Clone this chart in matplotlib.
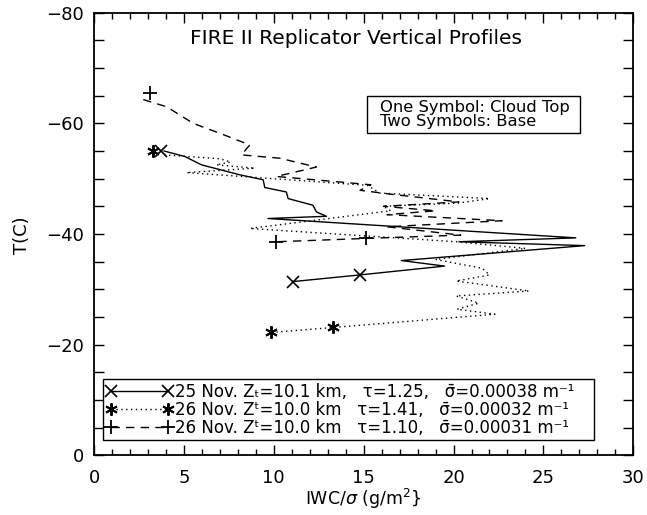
import matplotlib
matplotlib.use("Agg")
import matplotlib.pyplot as plt
from matplotlib.lines import Line2D
from matplotlib.patches import Rectangle
from matplotlib.ticker import MultipleLocator

plt.rcParams['font.family'] = ['DejaVu Sans']
plt.rcParams['mathtext.fontset'] = 'dejavusans'

# ---- data ----
# 25 Nov (solid, x markers)
nov25_iwc = [3.9, 5.06, 5.98, 8.11, 9.41, 9.50, 10.70, 10.80, 12.18, 12.37, 12.93,
             9.68, 26.80, 20.30, 27.30, 17.10, 19.50, 14.78, 11.07]
nov25_T = [-55.0, -54.0, -52.5, -50.7, -49.8, -48.4, -47.6, -46.4, -45.2, -44.0, -43.2,
           -42.8, -39.3, -38.6, -37.9, -35.2, -34.2, -32.6, -31.4]
nov25_top = (3.75, -55.0)

# 26 Nov first profile (dotted, asterisks)
nov26a_iwc = [3.9, 7.0, 7.6, 6.8, 8.94, 5.15, 15.2, 15.9, 22.0, 20.3, 16.1, 16.5,
              8.67, 20.15, 24.0, 19.0, 21.6, 22.0, 20.15, 24.2, 20.15, 21.4, 20.2,
              22.3, 13.3, 9.87]
nov26a_T = [-54.3, -53.6, -53.0, -52.5, -51.9, -51.1, -48.8, -47.4, -46.4, -45.6, -45.0,
            -44.2, -41.0, -38.6, -37.4, -35.4, -33.8, -32.6, -31.5, -29.7, -28.8,
            -27.5, -26.4, -25.5, -23.1, -22.2]
nov26a_top = (3.3, -55.0)

# 26 Nov second profile (dashed, plus)
nov26b_iwc = [2.74, 4.04, 4.78, 5.52, 7.0, 8.67, 8.2, 10.33, 12.37, 10.15, 13.67,
              15.4, 14.8, 16.5, 20.3, 16.1, 19.0, 16.3, 22.7, 16.3, 20.4, 15.15, 10.15]
nov26b_T = [-64.3, -63.0, -61.5, -60.0, -58.2, -56.1, -54.3, -53.7, -52.1, -50.4, -49.4,
            -48.9, -47.9, -47.2, -45.8, -45.0, -44.2, -43.5, -42.4, -41.3, -39.8,
            -39.2, -38.6]
nov26b_top = (3.1, -65.5)

labels = [
    "25 Nov. Z\u209c=10.1 km,   \u03c4=1.25,   \u03c3\u0304=0.00038 m\u207b\u00b9",
    "26 Nov. Z\u1d57=10.0 km   \u03c4=1.41,   \u03c3\u0304=0.00032 m\u207b\u00b9",
    "26 Nov. Z\u1d57=10.0 km   \u03c4=1.10,   \u03c3\u0304=0.00031 m\u207b\u00b9",
]
title = "FIRE II Replicator Vertical Profiles"
note = "One Symbol: Cloud Top\nTwo Symbols: Base"
xlabel = r"IWC/$\sigma$ (g/m$^2$}"
ylabel = "T(C)"

# ---- figure ----
W, H = 647, 515
fig = plt.figure(figsize=(W / 100, H / 100), dpi=100)
ax = fig.add_axes([94 / W, 1 - 455.3 / H, (633.3 - 94) / W, (455.3 - 12.7) / H])

lw = 1.0
ms_x, ms_ast, ms_plus = 8, 9, 10
ast = (6, 2, 0)

ax.plot(nov25_iwc, nov25_T, color='black', lw=lw, ls='-')
ax.plot(nov26a_iwc, nov26a_T, color='black', lw=lw, ls=(0, (1, 2.5)))
ax.plot(nov26b_iwc, nov26b_T, color='black', lw=lw, ls=(0, (6, 4.5)))

# symbols: one at top, two at base
ax.plot([nov25_top[0]], [nov25_top[1]], 'x', color='black', ms=ms_x, mew=1.2)
ax.plot(nov25_iwc[-2:], nov25_T[-2:], 'x', color='black', ms=ms_x, mew=1.2)
ax.plot([nov26a_top[0]], [nov26a_top[1]], marker=ast, ls='none', color='black', ms=ms_ast, mew=1.4)
ax.plot(nov26a_iwc[-2:], nov26a_T[-2:], marker=ast, ls='none', color='black', ms=ms_ast, mew=1.4)
ax.plot([nov26b_top[0]], [nov26b_top[1]], '+', color='black', ms=ms_plus, mew=1.3)
ax.plot(nov26b_iwc[-2:], nov26b_T[-2:], '+', color='black', ms=ms_plus, mew=1.3)

ax.set_xlim(0, 30)
ax.set_ylim(0, -80)
ax.xaxis.set_major_locator(MultipleLocator(5))
ax.xaxis.set_minor_locator(MultipleLocator(1))
ax.yaxis.set_major_locator(MultipleLocator(20))
ax.yaxis.set_minor_locator(MultipleLocator(5))
ax.tick_params(axis='both', which='both', direction='in', top=True, right=True, width=1.0)
ax.tick_params(axis='x', which='major', length=7, pad=10, labelsize=13)
ax.tick_params(axis='x', which='minor', length=4)
ax.tick_params(axis='y', which='major', length=7, pad=7, labelsize=13)
ax.tick_params(axis='y', which='minor', length=7)
for s in ax.spines.values():
    s.set_linewidth(1.3)

fig.text(356 / W, 1 - 38 / H, title, ha='center', va='center', fontsize=14.5)
fig.text(22 / W, 1 - 235 / H, ylabel, ha='center', va='center', rotation=90, fontsize=13)
fig.text(363 / W, 1 - 499 / H, xlabel, ha='center', va='center', fontsize=12.5)

# note box (top right)
ax.add_patch(Rectangle((0.506, 0.728), 0.395, 0.084, transform=ax.transAxes,
                       fill=False, edgecolor='black', lw=1.0))
ax.text(0.530, 0.770, note, transform=ax.transAxes, ha='left', va='center',
        fontsize=11.8, linespacing=0.95)

handles = [
    Line2D([], [], color='black', lw=lw, ls='-', marker='x', ms=ms_x, mew=1.2),
    Line2D([], [], color='black', lw=lw, ls=(0, (1, 2.5)), marker=ast, ms=ms_ast, mew=1.4),
    Line2D([], [], color='black', lw=lw, ls=(0, (6, 4.5)), marker='+', ms=ms_plus, mew=1.3),
]
leg = ax.legend(handles, labels, loc='lower left',
                bbox_to_anchor=(0.016, 0.0346, (594 - 102.7) / 539.3, 0.1), mode='expand',
                numpoints=2, handlelength=4.0, handletextpad=0.15, fontsize=12,
                labelspacing=0.0, borderpad=0.2, borderaxespad=0, fancybox=False,
                framealpha=1, edgecolor='black')
leg.get_frame().set_linewidth(1.0)

fig.savefig("out.png", dpi=100)
